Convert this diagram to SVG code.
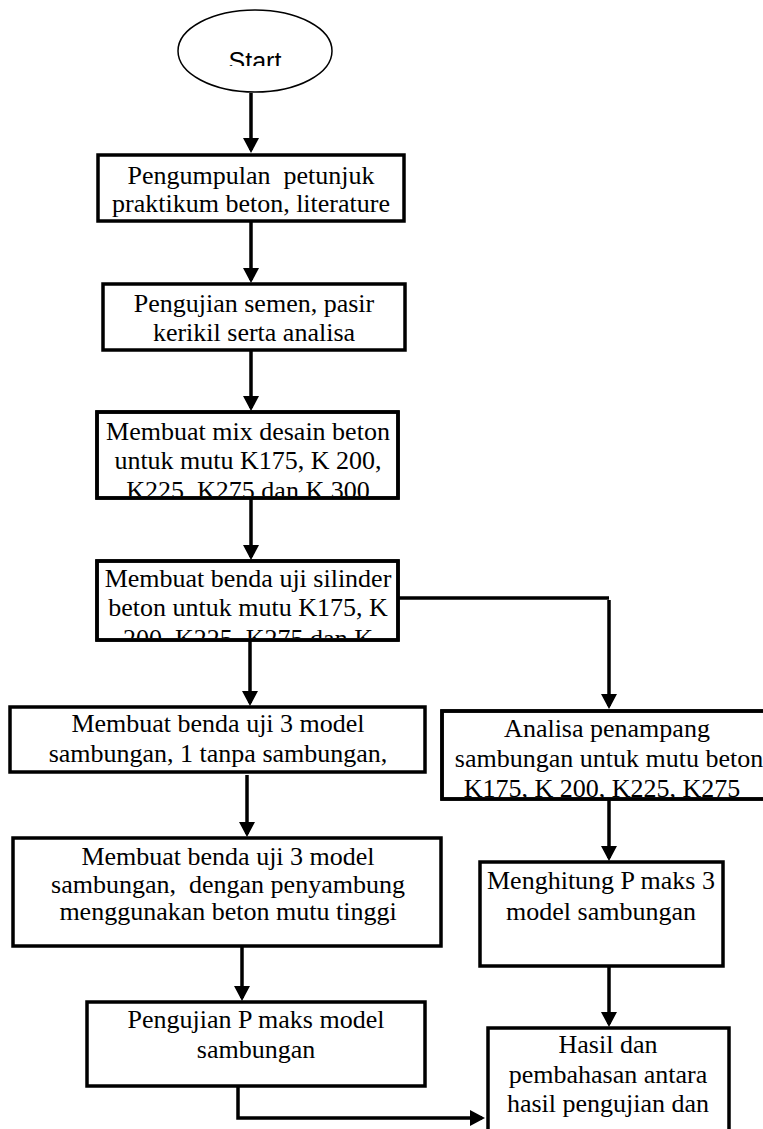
<svg xmlns="http://www.w3.org/2000/svg" width="763" height="1129" viewBox="0 0 763 1129">
<style>
.box{fill:#fff;stroke:#000;stroke-width:3.5}
.t{font-family:"Liberation Serif","Times New Roman",serif;font-size:26px;fill:#000;text-anchor:middle}
.c{fill:none;stroke:#000;stroke-width:3.5}
</style>
<defs>
<marker id="ah" markerUnits="userSpaceOnUse" markerWidth="15" markerHeight="16" viewBox="0 0 15 16" refX="12" refY="8" orient="auto">
<path d="M0,0 L15,8 L0,16 z" fill="#000"/>
</marker>
<clipPath id="cpStart"><rect x="150" y="0" width="200" height="66"/></clipPath>
<clipPath id="cp3"><rect x="97" y="412" width="301" height="84"/></clipPath>
<clipPath id="cp4"><rect x="97" y="561" width="301" height="77"/></clipPath>
<clipPath id="cpA"><rect x="442" y="711" width="330" height="86"/></clipPath>
</defs>
<rect width="763" height="1129" fill="#fff"/>
<g id="connectors">
<path class="c" d="M251,93 V150" marker-end="url(#ah)"/>
<path class="c" d="M251,222 V280" marker-end="url(#ah)"/>
<path class="c" d="M251,350 V408" marker-end="url(#ah)"/>
<path class="c" d="M251,498 V557" marker-end="url(#ah)"/>
<path class="c" d="M250,640 V703" marker-end="url(#ah)"/>
<path class="c" d="M247,775 V834" marker-end="url(#ah)"/>
<path class="c" d="M242,947 V998" marker-end="url(#ah)"/>
<path class="c" d="M238,1087 V1118 H482" marker-end="url(#ah)"/>
<path class="c" d="M398,598 H609"/>
<path class="c" d="M609,600 V706" marker-end="url(#ah)"/>
<path class="c" d="M609,800 V858" marker-end="url(#ah)"/>
<path class="c" d="M609,966 V1024" marker-end="url(#ah)"/>
</g>
<g id="start">
<ellipse cx="255" cy="51" rx="77" ry="41" fill="#fff" stroke="#000" stroke-width="1.5"/>
<text x="255" y="70" clip-path="url(#cpStart)" style="font-family:'Liberation Sans',Arial,sans-serif;font-size:25px;text-anchor:middle">Start</text>
</g>
<g id="n1">
<rect class="box" x="98" y="155" width="306" height="66"/>
<text class="t" x="251" y="184" xml:space="preserve">Pengumpulan  petunjuk</text>
<text class="t" x="251" y="212">praktikum beton, literature</text>
</g>
<g id="n2">
<rect class="box" x="103" y="284" width="302" height="66"/>
<text class="t" x="254" y="312">Pengujian semen, pasir</text>
<text class="t" x="254" y="341">kerikil serta analisa</text>
</g>
<g id="n3">
<rect class="box" x="97" y="412" width="301" height="86"/>
<g clip-path="url(#cp3)">
<text class="t" x="248" y="440">Membuat mix desain beton</text>
<text class="t" x="248" y="469">untuk mutu K175, K 200,</text>
<text class="t" x="248" y="499">K225, K275 dan K 300</text>
</g>
<rect x="97" y="412" width="301" height="86" fill="none" stroke="#000" stroke-width="3.5"/>
</g>
<g id="n4">
<rect class="box" x="97" y="561" width="301" height="79"/>
<g clip-path="url(#cp4)">
<text class="t" x="248" y="587">Membuat benda uji silinder</text>
<text class="t" x="248" y="616">beton untuk mutu K175, K</text>
<text class="t" x="248" y="647">200, K225, K275 dan K</text>
</g>
<rect x="97" y="561" width="301" height="79" fill="none" stroke="#000" stroke-width="3.5"/>
</g>
<g id="n5">
<rect class="box" x="10" y="707" width="415" height="65"/>
<text class="t" x="218" y="732">Membuat benda uji 3 model</text>
<text class="t" x="218" y="762">sambungan, 1 tanpa sambungan,</text>
</g>
<g id="n6">
<rect class="box" x="13" y="838" width="428" height="108"/>
<text class="t" x="228" y="865">Membuat benda uji 3 model</text>
<text class="t" x="228" y="893" xml:space="preserve">sambungan,  dengan penyambung</text>
<text class="t" x="228" y="920">menggunakan beton mutu tinggi</text>
</g>
<g id="n7">
<rect class="box" x="87" y="1002" width="338" height="84"/>
<text class="t" x="256" y="1028">Pengujian P maks model</text>
<text class="t" x="256" y="1058">sambungan</text>
</g>
<g id="n8">
<rect class="box" x="442" y="711" width="330" height="88"/>
<g clip-path="url(#cpA)">
<text class="t" x="607" y="737">Analisa penampang</text>
<text class="t" x="609" y="767">sambungan untuk mutu beton</text>
<text class="t" x="602" y="797">K175, K 200, K225, K275</text>
</g>
<rect x="442" y="711" width="330" height="88" fill="none" stroke="#000" stroke-width="3.5"/>
</g>
<g id="n9">
<rect class="box" x="480" y="862" width="243" height="104"/>
<text class="t" x="601" y="889">Menghitung P maks 3</text>
<text class="t" x="601" y="920">model sambungan</text>
</g>
<g id="n10">
<rect class="box" x="488" y="1028" width="241" height="112"/>
<text class="t" x="608" y="1053">Hasil dan</text>
<text class="t" x="608" y="1083">pembahasan antara</text>
<text class="t" x="608" y="1112">hasil pengujian dan</text>
</g>
</svg>
